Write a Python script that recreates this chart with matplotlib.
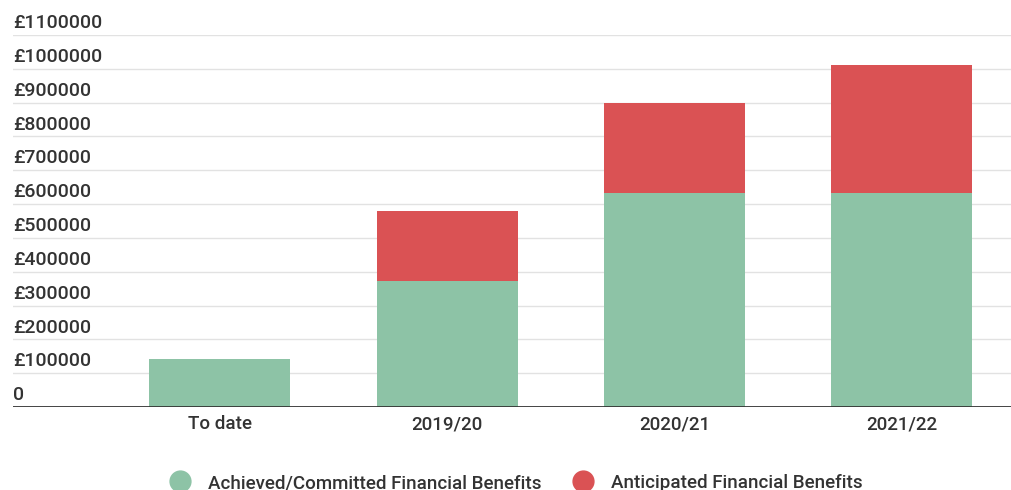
import matplotlib
matplotlib.use("Agg")
import matplotlib.pyplot as plt
from matplotlib.lines import Line2D

plt.rcParams["font.family"] = ["Roboto", "DejaVu Sans"]

categories = ["To date", "2019/20", "2020/21", "2021/22"]
achieved = [142000, 373000, 633000, 633000]
anticipated = [0, 207000, 267000, 377000]
y_ticks = list(range(0, 1100001, 100000))
y_labels = ["0"] + [f"£{v}" for v in y_ticks[1:]]

GREEN = "#8DC3A6"
RED = "#DA5254"
TEXT = "#333333"

fig = plt.figure(figsize=(10.11, 4.9), dpi=100)
ax = fig.add_axes([13 / 1011, 1 - 407 / 490, 1 - 13 / 1011, 372 / 490])

x = list(range(len(categories)))
ax.bar(x, achieved, width=0.62, color=GREEN, zorder=2)
ax.bar(x, anticipated, width=0.62, bottom=achieved, color=RED, zorder=2)

ax.set_xlim(-0.91, 3.48)
ax.set_ylim(0, 1100000)
for v in y_ticks[1:]:
    ax.axhline(v, color="#e2e2e2", linewidth=1, zorder=1)
ax.axhline(0, color="#333333", linewidth=2, zorder=3)

for v, lab in zip(y_ticks, y_labels):
    ax.annotate(lab, xy=(0, v), xycoords=("axes fraction", "data"),
                xytext=(0, 2), textcoords="offset points",
                ha="left", va="bottom", fontsize=14, color=TEXT,
                fontweight="medium")

ax.set_xticks(x)
ax.set_xticklabels(categories, fontsize=13.5, color=TEXT, fontweight="medium")
ax.tick_params(axis="x", length=0, pad=6)
ax.set_yticks([])
for s in ax.spines.values():
    s.set_visible(False)

handles = [
    Line2D([], [], marker="o", linestyle="", markersize=15, color=GREEN),
    Line2D([], [], marker="o", linestyle="", markersize=15, color=RED),
]
fig.legend(handles, ["Achieved/Committed Financial Benefits", "Anticipated Financial Benefits"],
           loc="center", bbox_to_anchor=(0.506, 1 - 483 / 490), ncol=2, frameon=False,
           prop={"size": 13.5, "weight": "medium"}, handletextpad=0.5,
           columnspacing=1.2, labelcolor=TEXT)

fig.savefig("out.png", dpi=100)
